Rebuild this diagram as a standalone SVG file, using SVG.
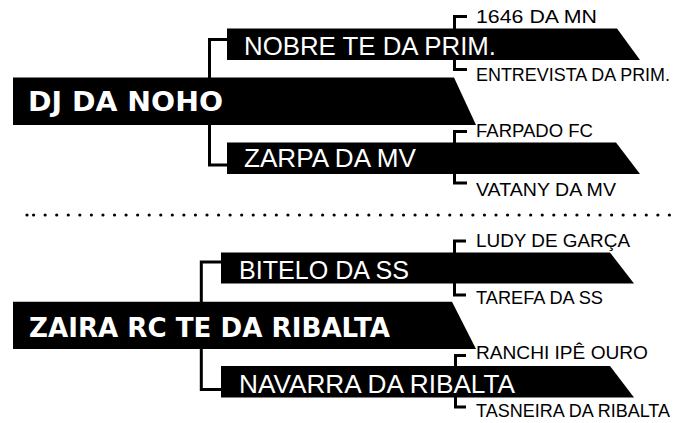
<svg xmlns="http://www.w3.org/2000/svg" width="678" height="423" viewBox="0 0 678 423">
<style>
.bg{fill:#ffffff}
.box{fill:#000000}
.main{font-family:"DejaVu Sans","Liberation Sans",sans-serif;font-weight:bold;font-size:27px;fill:#ffffff}
.sub{font-family:"Liberation Sans","Noto Sans",sans-serif;font-size:26.5px;fill:#ffffff}
.leaf{font-family:"Liberation Sans","Noto Sans",sans-serif;font-size:18.5px;fill:#000000}
.leaf.long{font-size:17.5px}
.conn{fill:none;stroke:#000000;stroke-width:3}
.dots{fill:none;stroke:#000000;stroke-width:3.2;stroke-linecap:round;stroke-dasharray:0 11.56}
</style>
<rect class="bg" x="0" y="0" width="678" height="423"/>
<g id="connectors">
  <path class="conn" d="M227,39.5 H209.5 V165 H227"/>
  <path class="conn" d="M467,16.5 H454.5 V69.5 H467"/>
  <path class="conn" d="M467,131.5 H454.5 V183 H467"/>
  <path class="conn" d="M221,262 H201.3 V389.5 H221"/>
  <path class="conn" d="M466,241 H454.5 V295 H466"/>
  <path class="conn" d="M466,355.5 H455.5 V407 H466"/>
</g>
<g id="separator">
  <circle cx="27" cy="215" r="1.6" fill="#000000"/>
  <path class="dots" d="M33.6,215 H670"/>
</g>
<g id="node-dj-da-noho">
  <polygon class="box" points="13,77.5 454,77.5 476,125 13,125"/>
  <text class="main" x="28" y="111" textLength="195" lengthAdjust="spacingAndGlyphs">DJ DA NOHO</text>
</g>
<g id="node-nobre">
  <polygon class="box" points="227,28.5 617,28.5 640,60 227,60"/>
  <text class="sub" x="244" y="55" textLength="252" lengthAdjust="spacingAndGlyphs">NOBRE TE DA PRIM.</text>
</g>
<g id="node-zarpa">
  <polygon class="box" points="227,142.5 616,142.5 640,174 227,174"/>
  <text class="sub" x="244" y="167" textLength="172" lengthAdjust="spacingAndGlyphs">ZARPA DA MV</text>
</g>
<g id="leaf-1646">
  <text class="leaf" x="476" y="22.7" textLength="121" lengthAdjust="spacingAndGlyphs">1646 DA MN</text>
</g>
<g id="leaf-entrevista">
  <text class="leaf long" x="476" y="81" textLength="194" lengthAdjust="spacingAndGlyphs">ENTREVISTA DA PRIM.</text>
</g>
<g id="leaf-farpado">
  <text class="leaf" x="476" y="136.7" textLength="117" lengthAdjust="spacingAndGlyphs">FARPADO FC</text>
</g>
<g id="leaf-vatany">
  <text class="leaf" x="476" y="195.5" textLength="140" lengthAdjust="spacingAndGlyphs">VATANY DA MV</text>
</g>
<g id="node-zaira">
  <polygon class="box" points="13,301.7 452,301.7 476,349 13,349"/>
  <text class="main" x="29" y="336.7" textLength="361" lengthAdjust="spacingAndGlyphs">ZAIRA RC TE DA RIBALTA</text>
</g>
<g id="node-bitelo">
  <polygon class="box" points="221,252.5 610,252.5 634,283.5 221,283.5"/>
  <text class="sub" x="239" y="278.5" textLength="170" lengthAdjust="spacingAndGlyphs">BITELO DA SS</text>
</g>
<g id="node-navarra">
  <polygon class="box" points="221,366 610,366 634,397.5 221,397.5"/>
  <text class="sub" x="239" y="392.5" textLength="276" lengthAdjust="spacingAndGlyphs">NAVARRA DA RIBALTA</text>
</g>
<g id="leaf-ludy">
  <text class="leaf" x="476" y="246.7" textLength="154" lengthAdjust="spacingAndGlyphs">LUDY DE GARÇA</text>
</g>
<g id="leaf-tarefa">
  <text class="leaf" x="476" y="304" textLength="127" lengthAdjust="spacingAndGlyphs">TAREFA DA SS</text>
</g>
<g id="leaf-ranchi">
  <text class="leaf" x="476" y="359.3" textLength="172" lengthAdjust="spacingAndGlyphs">RANCHI IPÊ OURO</text>
</g>
<g id="leaf-tasneira">
  <text class="leaf long" x="476" y="416.5" textLength="194" lengthAdjust="spacingAndGlyphs">TASNEIRA DA RIBALTA</text>
</g>
</svg>
